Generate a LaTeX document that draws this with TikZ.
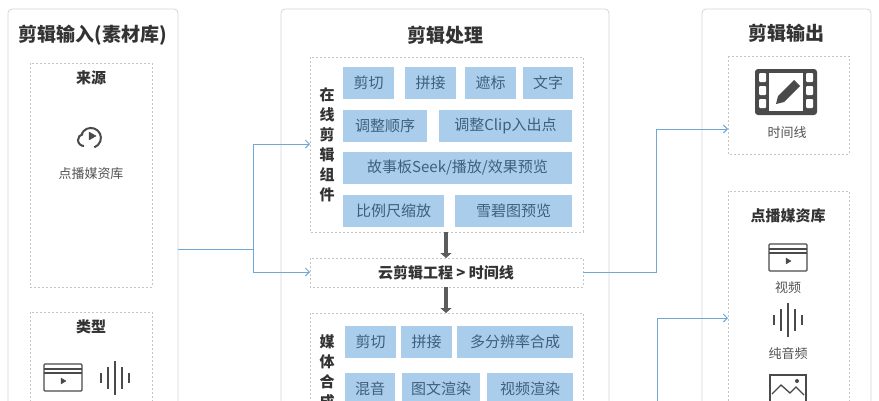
\documentclass[tikz,border=0pt]{standalone}
\usepackage{fontspec}
\setmainfont{Noto Sans CJK SC}
\usetikzlibrary{arrows.meta}
\definecolor{panelline}{HTML}{D6D6D6}
\definecolor{dashline}{HTML}{C4C4C4}
\definecolor{bluebox}{HTML}{A9CDEA}
\definecolor{boxtext}{HTML}{3E5F80}
\definecolor{conn}{HTML}{6FA8D6}
\definecolor{icon}{HTML}{4A4A4A}
\definecolor{txt}{HTML}{333333}
\tikzset{
 panel/.style={draw=panelline,rounded corners=4pt,line width=0.8pt},
 dbox/.style={draw=dashline,dash pattern=on 2pt off 2pt,line width=0.7pt},
 bb/.style={fill=bluebox,text=boxtext,font=\fontsize{15}{15}\selectfont,inner sep=0pt},
 ttl/.style={text=txt,font=\fontsize{19}{19}\selectfont\bfseries},
 sub/.style={text=txt,font=\fontsize{15}{15}\selectfont\bfseries},
 sm/.style={text=txt!85,font=\fontsize{13}{13}\selectfont},
 cn/.style={draw=conn,line width=0.9pt},
 ca/.style={cn,-{Straight Barb[length=4pt,width=8pt]}},
 da/.style={draw=icon!90,line width=4pt,-{Triangle[length=5pt,width=11pt]}},
 ic/.style={draw=icon,line width=1.6pt}
}
\begin{document}
\begin{tikzpicture}[x=1pt,y=-1pt]
\useasboundingbox (0,0) rectangle (879,400);
\clip (0,0) rectangle (879,400);
\fill[white] (0,0) rectangle (879,400);
% panels
\draw[panel] (8,9) rectangle (178,440);
\draw[panel] (281,9) rectangle (609,440);
\draw[panel] (702,9) rectangle (871,440);
\node[ttl] (tl) at (93,35) {剪辑输入(素材库)};
\node[ttl] (tc) at (445,35) {剪辑处理};
\node[ttl] (tr) at (786,33) {剪辑输出};
% left
\draw[dbox] (30,63) rectangle (152,287);
\node[sub] (ly) at (91,78) {来源};
\draw[ic,line width=2pt] (84,146) arc (90:260:6);
\draw[ic,line width=2pt] (81.5,134.5) arc (-160:70:10);
\draw[icon,fill=icon] (89,132) -- (96,136) -- (89,140) -- cycle;
\node[sm] (lys) at (91,174) {点播媒资库};
\draw[dbox] (30,312) rectangle (152,440);
\node[sub] (lx) at (91,327) {类型};
\draw[ic,line width=1.3pt,rounded corners=1pt] (44,364) rectangle (82,391);
\draw[ic,line width=1.3pt] (44,369) -- (82,369) (44,373)--(82,373);
\draw[icon,fill=icon] (61,378) -- (66,381) -- (61,384) -- cycle;
\foreach \xx/\h in {101/5,108/11,115/17,122/11,129/5}{\draw[icon,line width=2.6pt] (\xx,378-\h) -- (\xx,378+\h);}
% center
\draw[dbox] (310,57) rectangle (583,232);
\node[sub,align=center,font=\fontsize{15}{20}\selectfont\bfseries] (vz) at (327,145) {在\\线\\剪\\辑\\组\\件};
\node[bb,minimum width=51pt,minimum height=32pt] (b1) at (368.5,83) {剪切};
\node[bb,minimum width=51pt,minimum height=32pt] (b2) at (430.5,83) {拼接};
\node[bb,minimum width=51pt,minimum height=32pt] (b3) at (490.5,83) {遮标};
\node[bb,minimum width=50pt,minimum height=32pt] (b4) at (548,83) {文字};
\node[bb,minimum width=84pt,minimum height=32pt] (b5) at (385,126) {调整顺序};
\node[bb,minimum width=133pt,minimum height=32pt] (b6) at (505.5,126) {调整Clip入出点};
\node[bb,minimum width=229pt,minimum height=32pt] (b7) at (457.5,168) {故事板Seek/播放/效果预览};
\node[bb,minimum width=101pt,minimum height=32pt] (b8) at (393.5,211) {比例尺缩放};
\node[bb,minimum width=117pt,minimum height=32pt] (b9) at (513.5,211) {雪碧图预览};
\draw[dbox] (310,258) rectangle (583,287);
\node[text=txt,font=\fontsize{15}{15}\selectfont\bfseries] (proj) at (446,272.5) {云剪辑工程 > 时间线};
\coordinate (g1) at (446,232); \coordinate (g2) at (446,258);
\coordinate (g3) at (446,287); \coordinate (g4) at (446,313);
\draw[da] (g1) -- (g2);
\draw[da] (g3) -- (g4);
\draw[dbox] (310,313) rectangle (583,440);
\node[sub,align=center,anchor=north,font=\fontsize{15}{20}\selectfont\bfseries] (vm) at (327,331) {媒\\体\\合\\成};
\node[bb,minimum width=51pt,minimum height=32pt] (m1) at (370.5,342) {剪切};
\node[bb,minimum width=51pt,minimum height=32pt] (m2) at (426.5,342) {拼接};
\node[bb,minimum width=116pt,minimum height=32pt] (m3) at (515,342) {多分辨率合成};
\node[bb,minimum width=50pt,minimum height=32pt] (m4) at (370,389) {混音};
\node[bb,minimum width=78pt,minimum height=32pt] (m5) at (441,389) {图文渲染};
\node[bb,minimum width=86pt,minimum height=32pt] (m6) at (530,389) {视频渲染};
% right
\draw[dbox] (728,56) rectangle (849,154);
\fill[icon,rounded corners=3pt] (755,69) rectangle (817,115);
\fill[white] (769,73) rectangle (803,111);
\foreach \yy in {73,86,99}{\fill[white,rounded corners=1pt] (759,\yy) rectangle (766,\yy+9); \fill[white,rounded corners=1pt] (806,\yy) rectangle (813,\yy+9);}
\fill[icon] (776,104) -- (778,96) -- (794,80) -- (800,86) -- (784,102) -- cycle;
\node[sm] (tls) at (787,133) {时间线};
\draw[dbox] (728,191) rectangle (849,440);
\node[sub] (rv) at (788,216) {点播媒资库};
\draw[ic,line width=1.3pt,rounded corners=1pt] (769,244) rectangle (807,271);
\draw[ic,line width=1.3pt] (769,249) -- (807,249) (769,253)--(807,253);
\draw[icon,fill=icon] (786,258) -- (791,261) -- (786,264) -- cycle;
\node[sm] (rvs) at (788,288) {视频};
\foreach \xx/\h in {774/5,781/11,788/17,795/11,802/5}{\draw[icon,line width=2.6pt] (\xx,320-\h) -- (\xx,320+\h);}
\node[sm] (ras) at (788,354) {纯音频};
\draw[ic,line width=1.3pt] (770,375) rectangle (806,410);
\draw[ic,line width=1.3pt] (772,394) -- (781,385) -- (790,393) -- (796,387) -- (804,395);
\fill[icon] (797,381) circle (2pt);
% connectors
\coordinate (lo) at (178,249); \coordinate (sp) at (253,249);
\coordinate (t1) at (310,144); \coordinate (t2) at (310,272);
\draw[cn] (lo) -- (sp);
\draw[ca] (sp) |- (t1);
\draw[ca] (sp) |- (t2);
\coordinate (o1) at (583,272); \coordinate (o2) at (728,129);
\draw[ca] (o1) -| (656,129) -- (o2);
\coordinate (o3) at (657,440); \coordinate (o4) at (728,318);
\draw[ca] (o3) |- (o4);
\end{tikzpicture}
\end{document}
